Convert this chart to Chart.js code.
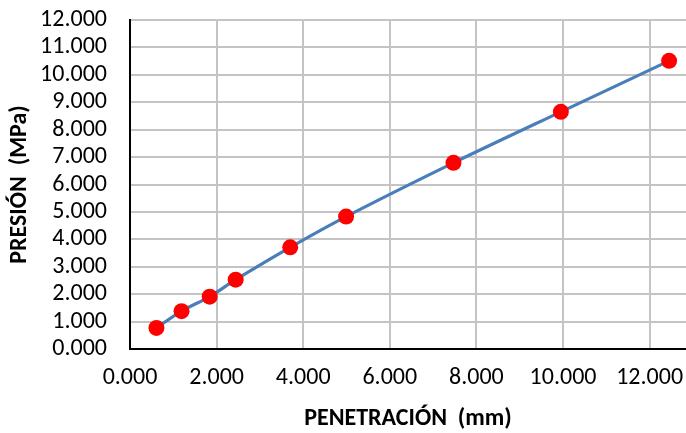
<!DOCTYPE html>
<html>
<head>
<meta charset="utf-8">
<script src="https://cdn.jsdelivr.net/npm/chart.js@4"></script>
<style>
  html, body { margin: 0; padding: 0; background: #fff; }
  #wrap { width: 686px; height: 433px; }
</style>
</head>
<body>
<div id="wrap"><canvas id="c" width="686" height="433"></canvas></div>
<script>
// Penetration (mm) and pressure (MPa) readings
const penetracion = [0.61, 1.19, 1.84, 2.44, 3.70, 4.99, 7.47, 9.95, 12.45];
const presion = [0.77, 1.38, 1.91, 2.53, 3.71, 4.83, 6.79, 8.65, 10.51];

const xTitle = 'PENETRACIÓN  (mm)';
const yTitle = 'PRESIÓN  (MPa)';

const FONT = "'Carlito', 'Lato', 'Open Sans', sans-serif";

const points = penetracion.map((x, i) => ({ x: x, y: presion[i] }));

const fmt = v => Number(v).toFixed(3);

new Chart(document.getElementById('c'), {
  type: 'scatter',
  data: {
    datasets: [{
      data: points,
      showLine: true,
      borderColor: '#4a7ebb',
      borderWidth: 3.2,
      tension: 0.3,
      pointRadius: 8,
      pointHoverRadius: 8,
      pointBackgroundColor: '#ff0000',
      pointBorderColor: '#ff0000',
      pointBorderWidth: 0,
      clip: false
    }]
  },
  options: {
    responsive: false,
    animation: false,
    devicePixelRatio: 1,
    layout: { autoPadding: false, padding: { top: 20, right: 0, bottom: 0, left: 0 } },
    plugins: { legend: { display: false }, tooltip: { enabled: false } },
    scales: {
      x: {
        type: 'linear',
        min: 0,
        max: 12.84,
        afterFit: s => { s.height = 84; s.paddingLeft = 0; s.paddingRight = 0; },
        ticks: {
          stepSize: 2,
          includeBounds: false,
          autoSkip: false,
          padding: 15,
          color: '#000',
          font: { family: FONT, size: 24 },
          maxRotation: 0,
          callback: v => fmt(v)
        },
        grid: { color: '#c4c4c4', lineWidth: 2, drawTicks: false },
        border: { color: '#000', width: 2 },
        title: {
          display: true,
          text: xTitle,
          color: '#000',
          font: { family: FONT, size: 24, weight: 'bold' },
          padding: { top: 0, bottom: 0 }
        }
      },
      y: {
        type: 'linear',
        min: 0,
        max: 12,
        afterFit: s => { s.width = 130; s.paddingTop = 0; s.paddingBottom = 0; },
        ticks: {
          stepSize: 1,
          autoSkip: false,
          padding: 23,
          color: '#000',
          font: { family: FONT, size: 24 },
          callback: v => fmt(v)
        },
        grid: { color: '#c4c4c4', lineWidth: 2, drawTicks: false },
        border: { color: '#000', width: 2 },
        title: {
          display: true,
          text: yTitle,
          color: '#000',
          font: { family: FONT, size: 24, weight: 'bold' },
          padding: { top: 6, bottom: 0 }
        }
      }
    }
  }
});
</script>
</body>
</html>
